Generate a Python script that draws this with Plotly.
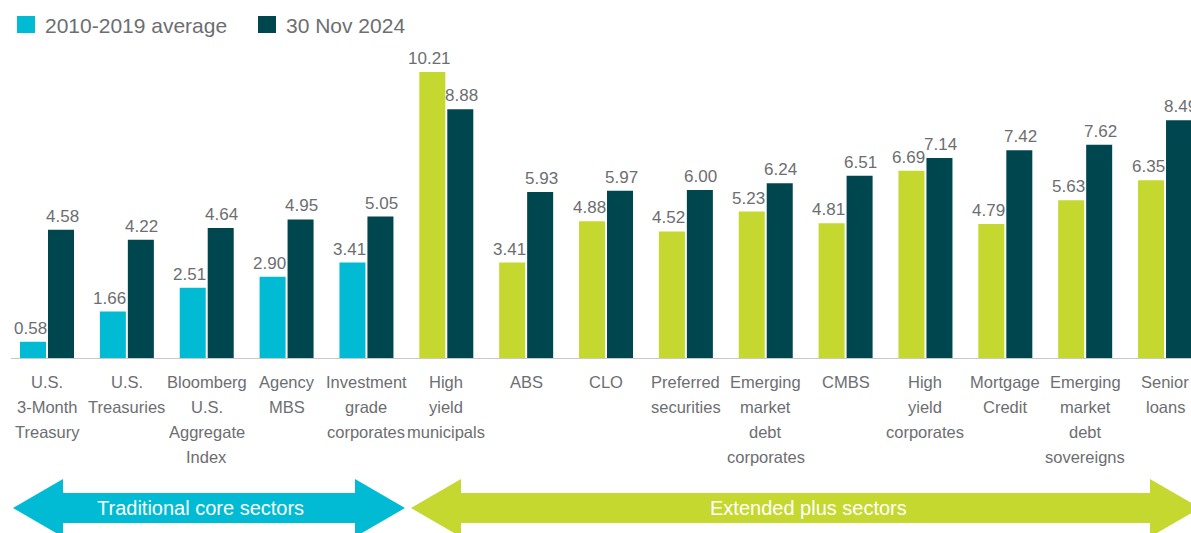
import plotly.graph_objects as go

categories = [
    "U.S.<br>3-Month<br>Treasury", "U.S.<br>Treasuries", "Bloomberg<br>U.S.<br>Aggregate<br>Index",
    "Agency<br>MBS", "Investment<br>grade<br>corporates", "High<br>yield<br>municipals", "ABS", "CLO",
    "Preferred<br>securities", "Emerging<br>market<br>debt<br>corporates", "CMBS", "High<br>yield<br>corporates",
    "Mortgage<br>Credit", "Emerging<br>market<br>debt<br>sovereigns", "Senior<br>loans",
]
avg_2010_2019 = [0.58, 1.66, 2.51, 2.90, 3.41, 10.21, 3.41, 4.88, 4.52, 5.23, 4.81, 6.69, 4.79, 5.63, 6.35]
nov_2024 = [4.58, 4.22, 4.64, 4.95, 5.05, 8.88, 5.93, 5.97, 6.00, 6.24, 6.51, 7.14, 7.42, 7.62, 8.49]
n_core = 5

CYAN = "#00BBD3"
GREEN = "#C5D82F"
DARK = "#00464E"
GRAY = "#6D6E71"
FONT = "Liberation Sans, Arial, sans-serif"

# body margin is removed in the page, so figure pixels == screenshot pixels
W, H = 1191, 533
BASE = 358           # baseline (px from top)
TOP = 36             # top of plot area
LEFT = 11            # left of plot area
L, R = LEFT, 0
T = TOP
B = H - BASE
PW = W - L - R
PH = H - T - B
PX_PER_UNIT = 28.0
UNIT = 79.86         # px per category
FIRST_CENTER = 47    # px of first category centre

avg_colors = [CYAN if i < n_core else GREEN for i in range(len(categories))]
xidx = list(range(len(categories)))

fig = go.Figure()
fig.add_trace(go.Bar(
    x=xidx, y=avg_2010_2019, name="2010-2019 average",
    marker=dict(color=avg_colors, line=dict(width=0)), showlegend=False,
))
fig.add_trace(go.Bar(
    x=xidx, y=nov_2024, name="30 Nov 2024",
    marker=dict(color=DARK, line=dict(width=0)), showlegend=False,
))

def px(x):
    return (x - L) / PW

def py(y):
    return (H - B - y) / PH

def arrow(x0, x1, yc, head_len, body_h, head_h):
    pts = [
        (x0, yc), (x0 + head_len, yc - head_h), (x0 + head_len, yc - body_h),
        (x1 - head_len, yc - body_h), (x1 - head_len, yc - head_h), (x1, yc),
        (x1 - head_len, yc + head_h), (x1 - head_len, yc + body_h),
        (x0 + head_len, yc + body_h), (x0 + head_len, yc + head_h),
    ]
    return "M " + " L ".join(f"{px(a):.5f},{py(b):.5f}" for a, b in pts) + " Z"

shapes = [
    dict(type="path", xref="paper", yref="paper", path=arrow(13, 405, 508, 50, 15, 29),
         fillcolor=CYAN, line=dict(width=0), layer="above"),
    dict(type="path", xref="paper", yref="paper", path=arrow(411, 1200, 508, 50, 15, 29),
         fillcolor=GREEN, line=dict(width=0), layer="above"),
    dict(type="rect", xref="paper", yref="paper", x0=px(17), x1=px(35), y0=py(16), y1=py(33),
         fillcolor=CYAN, line=dict(width=0)),
    dict(type="rect", xref="paper", yref="paper", x0=px(258), x1=px(276), y0=py(16), y1=py(33),
         fillcolor=DARK, line=dict(width=0)),
]

annotations = [
    dict(text="2010-2019 average", x=px(43), y=py(25), xref="paper", yref="paper",
         xanchor="left", yanchor="middle", showarrow=False,
         font=dict(family=FONT, size=21, color=GRAY)),
    dict(text="30 Nov 2024", x=px(284), y=py(25), xref="paper", yref="paper",
         xanchor="left", yanchor="middle", showarrow=False,
         font=dict(family=FONT, size=21, color=GRAY)),
    dict(text="Traditional core sectors", x=px(201), y=py(508), xref="paper", yref="paper",
         xanchor="center", yanchor="middle", showarrow=False,
         font=dict(family=FONT, size=20, color="white")),
    dict(text="Extended plus sectors", x=px(808), y=py(508), xref="paper", yref="paper",
         xanchor="center", yanchor="middle", showarrow=False,
         font=dict(family=FONT, size=20, color="white")),
]

# category labels, one annotation per line for a 25px line pitch
for i, cat in enumerate(categories):
    for k, line in enumerate(cat.split("<br>")):
        annotations.append(dict(
            text=line, x=i, xref="x", y=py(382 + 25 * k), yref="paper",
            xanchor="center", yanchor="middle", showarrow=False,
            font=dict(family=FONT, size=16.5, color=GRAY),
        ))

# value labels above the bars
for i, (a, b) in enumerate(zip(avg_2010_2019, nov_2024)):
    annotations.append(dict(
        text=f"{a:.2f}", x=i, xref="x", y=a, yref="y", xshift=-14 - 3, yshift=2,
        xanchor="center", yanchor="bottom", showarrow=False,
        font=dict(family=FONT, size=17, color=GRAY),
    ))
    annotations.append(dict(
        text=f"{b:.2f}", x=i, xref="x", y=b, yref="y", xshift=14 + 1, yshift=2,
        xanchor="center", yanchor="bottom", showarrow=False,
        font=dict(family=FONT, size=17, color=GRAY),
    ))

r0 = -(FIRST_CENTER - LEFT) / UNIT
r1 = r0 + PW / UNIT

fig.update_layout(
    width=W, height=H,
    margin=dict(l=L, r=R, t=T, b=B, pad=0),
    paper_bgcolor="white", plot_bgcolor="white",
    barmode="group", bargap=0.299, bargroupgap=0.071,
    shapes=shapes, annotations=annotations,
    xaxis=dict(
        range=[r0, r1], showgrid=False, zeroline=False,
        showline=True, linecolor="#C8C8C8", linewidth=1, ticks="",
        showticklabels=False, automargin=False,
    ),
    yaxis=dict(range=[0, PH / PX_PER_UNIT], visible=False, showgrid=False, zeroline=False),
    font=dict(family=FONT, color=GRAY),
)

fig.write_html(
    "out.html",
    config={"displayModeBar": False},
    post_script="document.body.style.margin='0px';document.body.style.overflow='hidden';",
)
